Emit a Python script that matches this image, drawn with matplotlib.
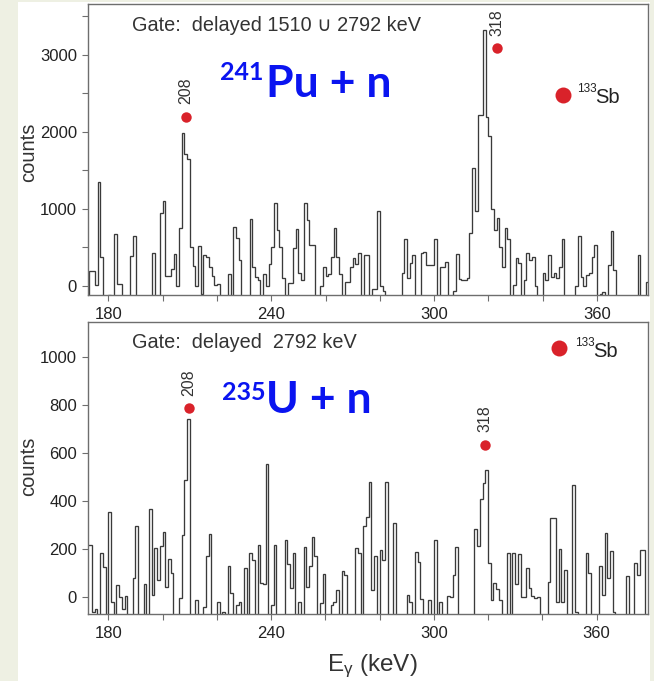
import numpy as np
import matplotlib
matplotlib.use("Agg")
import matplotlib.pyplot as plt
from matplotlib.patches import Rectangle

plt.rcParams['font.family'] = ['Liberation Sans', 'DejaVu Sans']
plt.rcParams['mathtext.fontset'] = 'custom'
plt.rcParams['mathtext.rm'] = 'Liberation Sans'
plt.rcParams['mathtext.it'] = 'Liberation Sans'

# ---------------- data ----------------
bin_start = 172      # lower edge of first channel (keV)
bin_width = 1        # keV per channel

top_counts = [
    -150, 200, 200, 15, 1355, 380, -150, -150, -120, -150,
    670, 20, 20, -150, -150, -150, 390, 650, -130, -150,
    -150, -150, -150, -150, 425, -150, -150, 945, 1110, 130,
    130, 215, 415, 0, 750, 1990, 1715, 1645, 510, 260,
    0, 520, -100, 400, 375, 250, 130, 15, 25, -150,
    -150, -150, 155, -150, 760, 620, 340, -150, -150, -150,
    865, 250, 120, 80, -150, 155, 0, 290, 510, 1080,
    730, 510, 100, -150, 40, 40, 490, 740, 165, 80,
    1080, 860, 530, 530, -150, -150, 0, 250, 130, 150,
    370, 750, 380, 155, -150, 50, 50, 250, 360, 290,
    425, -150, 400, 400, -150, -40, -40, 980, 0, -60,
    -150, -150, -150, -150, -150, -150, 175, 605, 100, 295,
    400, -150, -150, 430, 445, 273, 273, 273, 605, -150,
    250, 250, 315, -150, -150, -70, 415, 87, 78, 80,
    100, 684, 1530, 980, 2220, 2220, 3330, 2200, 1950, 1000,
    730, 880, 510, 250, 750, 605, -150, 10, 360, 295,
    -150, 80, 425, 340, 380, 0, -150, -130, 173, 80,
    400, 120, 165, 110, 250, 605, -150, -150, -150, -130,
    0, 650, 120, 0, 140, 165, 380, 530, -150, -100,
    -80, -150, 270, 720, 210, -150, -150, -150, -150, -150,
    -150, -150, -150, 400, -150, -150, 55, 80,
]

bottom_counts = [
    217, 217, -60, -50, -150, 186, 125, -150, 354, -18,
    -150, 51, 0, -50, 5, -150, -150, 80, 297, -150,
    -150, 54, -150, 367, 10, 207, 70, 214, 270, 42,
    158, 100, -150, -150, -4, 260, 489, 742, -150, -150,
    -10, -150, -150, -40, 170, 264, -150, -150, -20, -150,
    -60, -150, 130, 17, -150, -32, -18, -150, 121, -150,
    186, 153, -150, 217, 58, 55, 556, -150, -32, 218,
    -150, -150, -150, 239, 139, 37, 186, -150, -20, -150,
    208, 42, 128, 253, 170, -150, -25, 97, -150, -150,
    -32, -18, 31, -150, 111, 93, -150, -150, -150, 207,
    183, -150, 297, 336, 480, 31, 170, -150, 197, 153,
    482, -150, -150, 308, -150, -150, -150, -150, 10, -18,
    -150, 187, 146, -8, -150, -150, -10, -150, 239, -150,
    -21, -150, -150, 6, 0, 93, 211, -150, -150, -150,
    -150, -150, -150, 283, 214, 408, 478, 531, 144, -10,
    61, 33, -10, -150, -150, 186, -150, 186, 55, 179,
    0, 0, 121, 37, 3, -5, 0, -150, -150, -150,
    65, 329, 329, -20, 200, -20, 114, -150, -150, 468,
    -60, -150, -150, -150, 183, 100, -150, -150, -150, 130,
    10, 267, 82, 193, -60, -150, -150, -150, -150, 89,
    -150, -150, 142, 93, 197, 197, -150, -150,
]

x_ticks = [180, 240, 300, 360]
top_yticks = [0, 1000, 2000, 3000]
bottom_yticks = [0, 200, 400, 600, 800, 1000]

peak_labels = ['208', '318']
top_peak_x = [208.5, 323.1]
top_peak_y = [2200, 3090]
bottom_peak_x = [209.7, 319.0]
bottom_peak_y = [787, 635]
top_legend_xy = (347.6, 2480)
bottom_legend_xy = (346.0, 1037)

top_gate = 'Gate:  delayed 1510 \u222a 2792 keV'
bottom_gate = 'Gate:  delayed  2792 keV'

# ---------------- figure ----------------
W, H = 654, 681
fig = plt.figure(figsize=(W / 100, H / 100), dpi=100, facecolor='#eef0e3')
fig.patches.append(Rectangle((18 / W, 0), (650 - 18) / W, (H - 2) / H,
                             transform=fig.transFigure, facecolor='white',
                             edgecolor='none', zorder=-10))


def px_axes(l, t, r, b):
    return fig.add_axes([l / W, 1 - b / H, (r - l) / W, (b - t) / H])


def ftext(x, y, s, **kw):
    return fig.text(x / W, 1 - y / H, s, **kw)


ax1 = px_axes(88, 4, 648, 295)
ax2 = px_axes(88, 322, 647.5, 614)

edges = bin_start + bin_width * np.arange(len(top_counts) + 1)
line_col = '#3a3a3a'
spine_col = '#6e6e6e'
red = '#d9222a'

for ax, counts in ((ax1, top_counts), (ax2, bottom_counts)):
    ax.stairs(counts, edges, baseline=None, color=line_col, lw=0.95)
    ax.set_xlim(172.5, 378.8)
    ax.set_xticks(x_ticks)
    ax.set_xticks(np.arange(180, 380, 20), minor=True)
    for sp in ax.spines.values():
        sp.set_color(spine_col)
        sp.set_linewidth(1.0)
    ax.tick_params(which='both', direction='out', length=4.5, width=0.8,
                   color=spine_col, labelsize=12, labelcolor='#222222')
    ax.tick_params(axis='x', pad=4)
    ax.tick_params(axis='y', pad=3.5)

ax1.set_ylim(-117, 3662)
ax1.set_yticks(top_yticks)
ax1.set_yticks([500, 1500, 2500, 3500], minor=True)
ax2.set_ylim(-70, 1147)
ax2.set_yticks(bottom_yticks)
ax2.yaxis.set_minor_locator(matplotlib.ticker.NullLocator())

# peak markers and labels
ax1.plot(top_peak_x, top_peak_y, 'o', color=red, ms=7.5, mec='none')
ax2.plot(bottom_peak_x, bottom_peak_y, 'o', color=red, ms=7.5, mec='none')
for xv, yv, lab in zip(top_peak_x, top_peak_y, peak_labels):
    ax1.annotate(lab, (xv, yv), xytext=(0, 9), textcoords='offset points',
                 rotation=90, ha='center', va='bottom', fontsize=11.5,
                 color='#333333')
for xv, yv, lab in zip(bottom_peak_x, bottom_peak_y, peak_labels):
    ax2.annotate(lab, (xv, yv), xytext=(0, 9), textcoords='offset points',
                 rotation=90, ha='center', va='bottom', fontsize=11.5,
                 color='#333333')

# legend markers
ax1.plot([top_legend_xy[0]], [top_legend_xy[1]], 'o', color=red, ms=11.5,
         mec='none')
ax2.plot([bottom_legend_xy[0]], [bottom_legend_xy[1]], 'o', color=red,
         ms=11.5, mec='none')
ftext(577, 92, '133', fontsize=8.5, color='#222222', va='baseline')
ftext(595, 103, 'Sb', fontsize=14.5, color='#222222', va='baseline')
ftext(575, 346, '133', fontsize=8.5, color='#222222', va='baseline')
ftext(593, 357, 'Sb', fontsize=14.5, color='#222222', va='baseline')

# gate texts
ftext(132, 31, top_gate, fontsize=14.3, color='#333333', va='baseline')
ftext(132, 348, bottom_gate, fontsize=14.3, color='#333333', va='baseline')

# reaction labels
blue = '#0a14f0'
ftext(220, 80, '241', fontsize=18, fontweight='bold', color=blue,
      family='Lato', va='baseline')
ftext(266, 97, 'Pu + n', fontsize=32, fontweight='bold', color=blue,
      family='Lato', va='baseline')
ftext(222, 400, '235', fontsize=18, fontweight='bold', color=blue,
      family='Lato', va='baseline')
ftext(266, 413, 'U + n', fontsize=32, fontweight='bold', color=blue,
      family='Lato', va='baseline')

# axis labels
ftext(29, 152, 'counts', fontsize=14.5, rotation=90, ha='center',
      va='center', color='#333333')
ftext(29, 466, 'counts', fontsize=14.5, rotation=90, ha='center',
      va='center', color='#333333')
ftext(372, 671, r'E$_{\mathrm{\gamma}}$ (keV)', fontsize=17.5, ha='center',
      va='baseline', color='#333333')

fig.savefig('out.png', dpi=100, facecolor=fig.get_facecolor())
